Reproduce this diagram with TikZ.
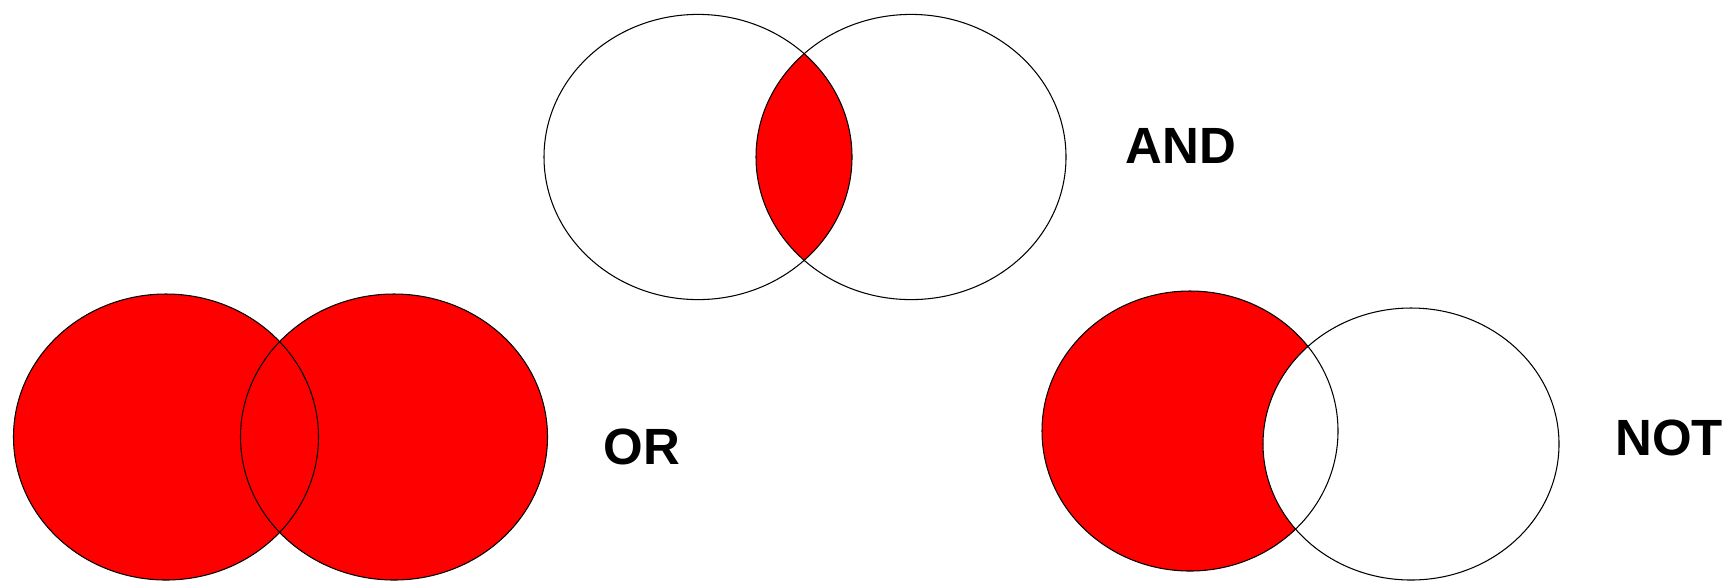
\documentclass[tikz,border=0pt]{standalone}
\usepackage{fontspec}
\setmainfont{Liberation Sans}
\usepackage{xcolor}
\definecolor{setred}{HTML}{FF0000}
\definecolor{setink}{HTML}{000000}

\begin{document}
\begin{tikzpicture}[
  x=0.02cm, y=-0.02cm,
  setline/.style={draw=setink, line width=0.6pt},
  setfill/.style={fill=setred},
  oplabel/.style={font=\rmfamily\bfseries\fontsize{29}{29}\selectfont, text=setink, inner sep=0pt},
]
\useasboundingbox (0,0) rectangle (1727,583);

% ---- set centres (pixel grid) ----
\coordinate (andL) at (698,157);
\coordinate (andR) at (911,157);
\coordinate (orL)  at (166,437);
\coordinate (orR)  at (394,437);
\coordinate (notL) at (1190,431);
\coordinate (notR) at (1411,444);

% ---- AND: only the lens ----
\begin{scope}
  \clip (andL) ellipse [x radius=154, y radius=142.6];
  \fill[setfill] (andR) ellipse [x radius=155, y radius=142.6];
\end{scope}
\draw[setline] (andL) ellipse [x radius=154, y radius=142.6];
\draw[setline] (andR) ellipse [x radius=155, y radius=142.6];

% ---- OR: both sets ----
\fill[setfill] (orL) ellipse [x radius=152.5, y radius=143];
\fill[setfill] (orR) ellipse [x radius=153.5, y radius=143];
\draw[setline] (orL) ellipse [x radius=152.5, y radius=143];
\draw[setline] (orR) ellipse [x radius=153.5, y radius=143];

% ---- NOT: left set minus right set ----
\fill[setfill] (notL) ellipse [x radius=148, y radius=140];
\fill[white]   (notR) ellipse [x radius=148, y radius=136];
\draw[setline] (notL) ellipse [x radius=148, y radius=140];
\draw[setline] (notR) ellipse [x radius=148, y radius=136];

% ---- labels ----
\node[oplabel] (andtxt) at (1181,146) {AND};
\node[oplabel] (ortxt)  at (642,447)  {OR};
\node[oplabel] (nottxt) at (1669,438) {NOT};

\end{tikzpicture}
\end{document}
